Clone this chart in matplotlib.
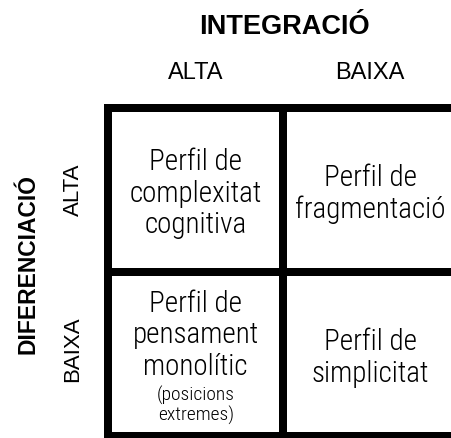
import matplotlib
matplotlib.use("Agg")
import matplotlib.pyplot as plt
from matplotlib import font_manager

# labels of the 2x2 grid
title_x = "INTEGRACIÓ"
title_y = "DIFERENCIACIÓ"
col_labels = ["ALTA", "BAIXA"]
row_labels = ["ALTA", "BAIXA"]

# cell text: (row, col) -> list of (line, big?)
cell_text = {
    (0, 0): [("Perfil de", 1), ("complexitat", 1), ("cognitiva", 1)],
    (0, 1): [("Perfil de", 1), ("fragmentació", 1)],
    (1, 0): [("Perfil de", 1), ("pensament", 1), ("monolític", 1),
             ("(posicions", 0), ("extremes)", 0)],
    (1, 1): [("Perfil de", 1), ("simplicitat", 1)],
}

names = {f.name for f in font_manager.fontManager.ttflist}
narrow = "Liberation Sans"
for cand in ["Liberation Sans Narrow", "Arial Narrow", "Roboto Condensed",
             "Archivo Narrow", "PT Sans Narrow"]:
    if cand in names:
        narrow = cand
        break
sans = "Liberation Sans"

W, H = 452, 439
fig = plt.figure(figsize=(W / 100, H / 100), dpi=100)
ax = fig.add_axes([0, 0, 1, 1])
ax.set_xlim(0, W)
ax.set_ylim(H, 0)
ax.axis("off")

# grid geometry in pixels (line centres)
xs = [108.5, 283, 462]
ys = [109, 273, 437]
lw = 8 * 72 / 100

for x in xs:
    ax.plot([x, x], [ys[0] - 4, ys[-1] + 4], color="black", lw=lw, solid_capstyle="butt")
for y in ys:
    ax.plot([xs[0] - 4, xs[-1] + 4], [y, y], color="black", lw=lw, solid_capstyle="butt")

col_c = [(xs[i] + xs[i + 1]) / 2 for i in range(2)]
row_c = [(ys[i] + ys[i + 1]) / 2 for i in range(2)]

ax.text(284, 27, title_x, fontsize=19.5, fontweight="bold", family=sans,
        ha="center", va="center")
for c, lab in zip([196, 370], col_labels):
    ax.text(c, 73, lab, fontsize=17, family=sans, ha="center", va="center")

ax.text(28, 264, title_y, fontsize=16.5, fontweight="bold", family=sans,
        ha="center", va="center", rotation=90)
for r, lab in zip([190, 349], row_labels):
    ax.text(73, r, lab, fontsize=16, family=sans, ha="center", va="center", rotation=90)

# line pitch and cap height in px for big / small lines
pitch = {1: 31.5, 0: 20}
cap = {1: 22, 0: 15}
size = {1: 21, 0: 14}

for (r, c), lines in cell_text.items():
    base = [0.0]
    for i in range(1, len(lines)):
        p = pitch[lines[i][1]] if lines[i][1] == lines[i - 1][1] else 25.5
        base.append(base[-1] + p)
    top = base[0] - cap[lines[0][1]]
    mid = (top + base[-1]) / 2
    off = row_c[r] - mid
    for (txt, big), b in zip(lines, base):
        ax.text(col_c[c] - 2 * c, b + off, txt, fontsize=size[big], family=narrow,
                fontweight="light", ha="center", va="baseline")

fig.savefig("out.png", dpi=100)
